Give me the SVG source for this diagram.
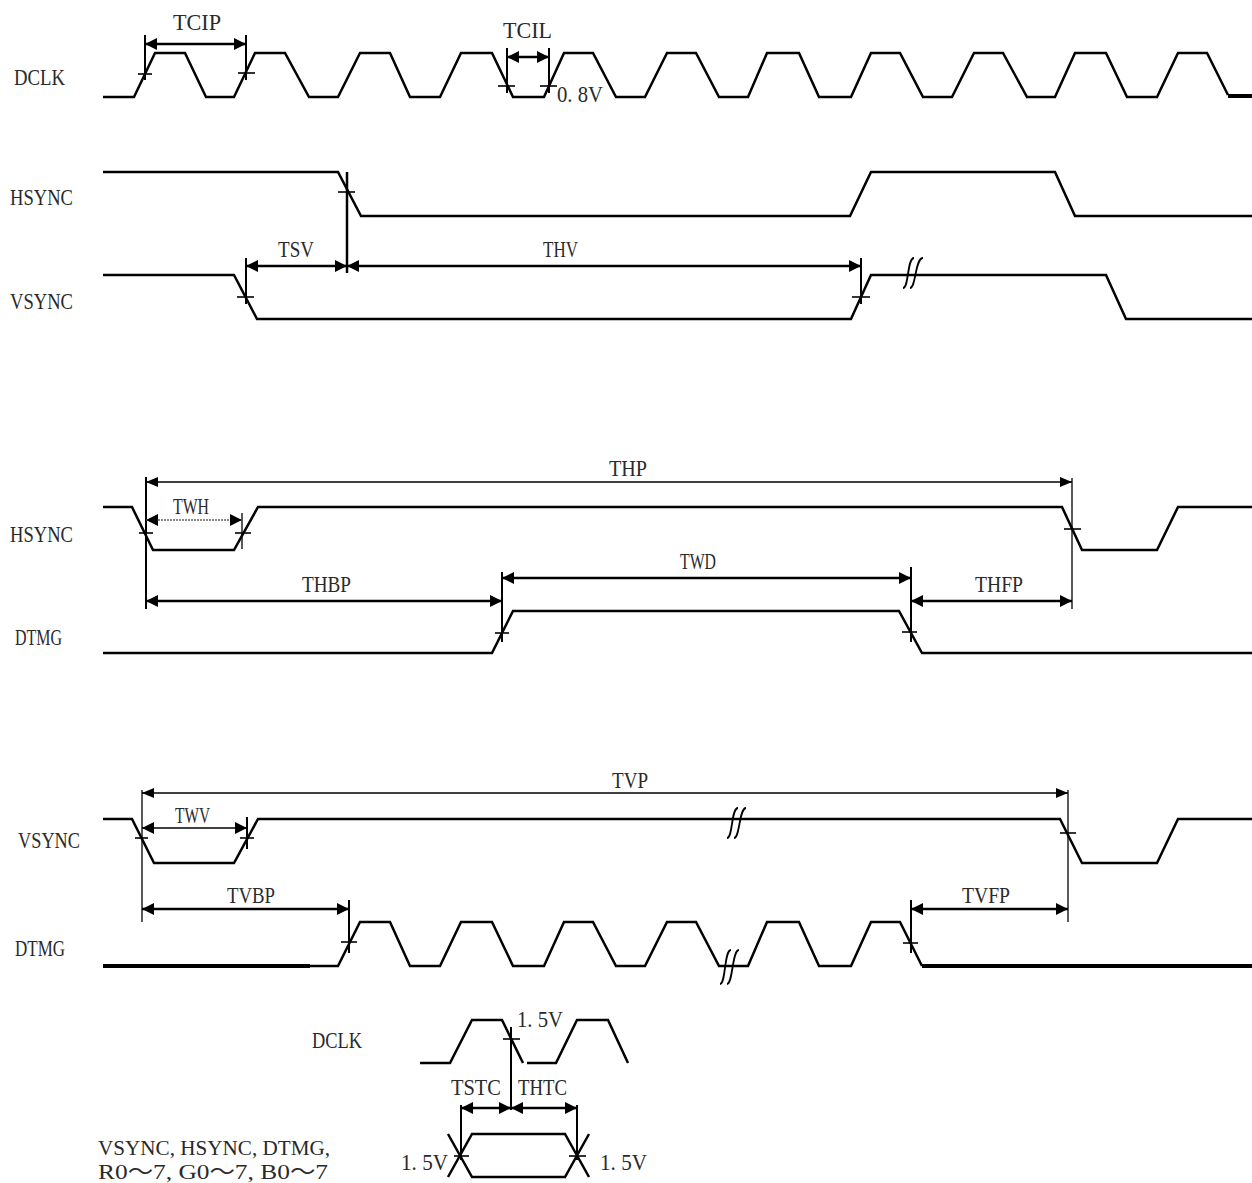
<svg xmlns="http://www.w3.org/2000/svg" width="1252" height="1183" viewBox="0 0 1252 1183">
<defs>
<marker id="ar" viewBox="0 0 12 12" markerWidth="12" markerHeight="12" refX="12" refY="6" orient="auto-start-reverse" markerUnits="userSpaceOnUse"><path d="M0,0 L12,6 L0,12 z" fill="#000"/></marker>
<marker id="ars" viewBox="0 0 12 10" markerWidth="12" markerHeight="10" refX="12" refY="5" orient="auto-start-reverse" markerUnits="userSpaceOnUse"><path d="M0,0 L12,5 L0,10 z" fill="#000"/></marker>
</defs>
<style>
.w{fill:none;stroke:#000;stroke-width:2.5;stroke-linejoin:miter}
.wt{fill:none;stroke:#000;stroke-width:4}
.t{font-family:"Liberation Serif","Noto Sans CJK SC",serif;font-size:24px;fill:#2a2a2a}
.s{font-size:22px}
.d{stroke:#000;stroke-width:2.5;marker-start:url(#ar);marker-end:url(#ar)}
.dt{stroke:#000;stroke-width:1.3;marker-start:url(#ars);marker-end:url(#ars)}
.e{stroke:#000;stroke-width:2}
.et{stroke:#000;stroke-width:1.3}
.k{stroke:#000;stroke-width:1.6}
.br{fill:none;stroke:#000;stroke-width:1.8}
</style>
<rect width="1252" height="1183" fill="#fff"/>

<g id="dclk1">
<text class="t" x="14" y="85" textLength="51" lengthAdjust="spacingAndGlyphs">DCLK</text>
<path class="w" d="M103,97 L134,97 L155,53 L185,53 L206,97 L234,97 L255,53 L285,53 L309,97 L338,97 L360,53 L390,53 L410,97 L440,97 L461,53 L492,53 L513,97 L544,97 L564,53 L593,53 L616,97 L645,97 L667,53 L696,53 L719,97 L748,97 L767,53 L799,53 L819,97 L851,97 L871,53 L900,53 L923,97 L952,97 L974,53 L1003,53 L1027,97 L1055,97 L1075,53 L1106,53 L1127,97 L1157,97 L1178,53 L1207,53 L1228,95"/>
<path class="wt" d="M1228,96 L1252,96"/>
</g>

<g id="hsync1">
<text class="t" x="10" y="205" textLength="63" lengthAdjust="spacingAndGlyphs">HSYNC</text>
<path class="w" d="M103,172 L338,172 L361,216 L850,216 L871,172 L1055,172 L1075,216 L1252,216"/>
</g>

<g id="vsync1">
<text class="t" x="10" y="309" textLength="63" lengthAdjust="spacingAndGlyphs">VSYNC</text>
<path class="w" d="M103,275 L234,275 L257,319 L851,319 L871,275 L1106,275 L1126,319 L1252,319"/>
<path class="br" d="M903,288 C909,288 907,258 914,258 M910,288 C916,288 915,258 923,258"/>
</g>

<g id="hsync2">
<text class="t" x="10" y="542" textLength="63" lengthAdjust="spacingAndGlyphs">HSYNC</text>
<path class="w" d="M103,507 L132,507 L153,550 L234,550 L258,507 L1062,507 L1082,550 L1157,550 L1178,507 L1252,507"/>
</g>

<g id="dtmg2">
<text class="t" x="15" y="645" textLength="47" lengthAdjust="spacingAndGlyphs">DTMG</text>
<path class="w" d="M103,653 L492,653 L513,611 L899,611 L922,653 L1252,653"/>
</g>

<g id="vsync3">
<text class="t" x="18" y="848" textLength="62" lengthAdjust="spacingAndGlyphs">VSYNC</text>
<path class="w" d="M103,819 L132,819 L154,863 L234,863 L258,819 L1060,819 L1082,863 L1157,863 L1178,819 L1252,819"/>
<path class="br" d="M727,838 C733,838 731,808 738,808 M734,838 C740,838 739,808 746,808"/>
</g>

<g id="dtmg3">
<text class="t" x="15" y="956" textLength="50" lengthAdjust="spacingAndGlyphs">DTMG</text>
<path class="wt" d="M103,966 L310,966"/>
<path class="w" d="M310,966 L338,966 L360,922 L390,922 L410,966 L440,966 L461,922 L492,922 L513,966 L544,966 L564,922 L593,922 L616,966 L645,966 L667,922 L696,922 L719,966 L748,966 L767,922 L799,922 L819,966 L851,966 L871,922 L900,922 L922,966"/>
<path class="wt" d="M922,966 L1252,966"/>
<path class="br" d="M720,984 C726,984 724,950 731,950 M727,984 C733,984 732,950 739,950"/>
</g>

<g id="dclk2">
<text class="t" x="312" y="1048" textLength="50" lengthAdjust="spacingAndGlyphs">DCLK</text>
<path class="w" d="M420,1063 L450,1063 L472,1020 L502,1020 L523,1063"/>
<path class="w" d="M527,1063 L556,1063 L577,1020 L608,1020 L628,1063"/>
</g>

<g id="databus">
<text class="t s" x="98" y="1155" textLength="232" lengthAdjust="spacingAndGlyphs">VSYNC, HSYNC, DTMG,</text>
<text class="t s" x="98" y="1179" textLength="230" lengthAdjust="spacingAndGlyphs">R0～7, G0～7, B0～7</text>
<path class="w" d="M448,1134 L472,1177 L565,1177 L589,1134 M448,1177 L472,1134 L565,1134 L589,1177"/>
</g>

<g id="connectors">
<line class="e" x1="145" y1="35" x2="145" y2="80"/>
<line class="e" x1="246" y1="35" x2="246" y2="80"/>
<line class="d" x1="145" y1="44" x2="246" y2="44"/>
<line class="k" x1="138" y1="74" x2="152" y2="74"/>
<line class="k" x1="238" y1="73" x2="255" y2="73"/>
<text class="t" x="173" y="30" textLength="48" lengthAdjust="spacingAndGlyphs">TCIP</text>
<line class="e" x1="507" y1="48" x2="507" y2="93"/>
<line class="e" x1="549" y1="48" x2="549" y2="93"/>
<line class="d" x1="507" y1="57" x2="549" y2="57"/>
<line class="k" x1="498" y1="86" x2="515" y2="86"/>
<line class="k" x1="540" y1="86" x2="557" y2="86"/>
<text class="t" x="503" y="38" textLength="49" lengthAdjust="spacingAndGlyphs">TCIL</text>
<text class="t" x="557" y="102" textLength="46" lengthAdjust="spacingAndGlyphs">0. 8V</text>
<line x1="347" y1="172" x2="347" y2="273" stroke="#000" stroke-width="2.5"/>
<line class="e" x1="246" y1="258" x2="246" y2="304"/>
<line class="e" x1="861" y1="258" x2="861" y2="304"/>
<line class="d" x1="246" y1="266" x2="347" y2="266"/>
<line class="d" x1="347" y1="266" x2="861" y2="266"/>
<line class="k" x1="338" y1="192" x2="355" y2="192"/>
<line class="k" x1="237" y1="297" x2="254" y2="297"/>
<line class="k" x1="852" y1="297" x2="870" y2="297"/>
<text class="t" x="278" y="257" textLength="36" lengthAdjust="spacingAndGlyphs">TSV</text>
<text class="t" x="543" y="257" textLength="35" lengthAdjust="spacingAndGlyphs">THV</text>
<line class="e" x1="146" y1="477" x2="146" y2="609"/>
<line class="et" x1="1072" y1="478" x2="1072" y2="609"/>
<line class="dt" x1="146" y1="482" x2="1072" y2="482"/>
<text class="t" x="609" y="476" textLength="38" lengthAdjust="spacingAndGlyphs">THP</text>
<line class="et" x1="242" y1="513" x2="242" y2="549"/>
<line x1="146" y1="520" x2="242" y2="520" stroke="#666" stroke-width="1.6" stroke-dasharray="2 1" marker-start="url(#ar)" marker-end="url(#ar)"/>
<text class="t" x="173" y="514" textLength="36" lengthAdjust="spacingAndGlyphs">TWH</text>
<line class="k" x1="139" y1="533" x2="153" y2="533"/>
<line class="k" x1="235" y1="533" x2="251" y2="533"/>
<line class="k" x1="1064" y1="529" x2="1081" y2="529"/>
<line class="e" x1="502" y1="572" x2="502" y2="642"/>
<line class="e" x1="911" y1="567" x2="911" y2="642"/>
<line class="d" x1="502" y1="578" x2="911" y2="578"/>
<line class="d" x1="146" y1="601" x2="502" y2="601"/>
<line class="d" x1="911" y1="601" x2="1072" y2="601"/>
<line class="k" x1="495" y1="633" x2="509" y2="633"/>
<line class="k" x1="902" y1="632" x2="917" y2="632"/>
<text class="t" x="680" y="569" textLength="36" lengthAdjust="spacingAndGlyphs">TWD</text>
<text class="t" x="302" y="592" textLength="49" lengthAdjust="spacingAndGlyphs">THBP</text>
<text class="t" x="975" y="592" textLength="48" lengthAdjust="spacingAndGlyphs">THFP</text>
<line class="et" x1="142" y1="790" x2="142" y2="922"/>
<line class="et" x1="1068" y1="790" x2="1068" y2="922"/>
<line class="dt" x1="142" y1="793" x2="1068" y2="793"/>
<text class="t" x="612" y="788" textLength="36" lengthAdjust="spacingAndGlyphs">TVP</text>
<line class="e" x1="247" y1="817" x2="247" y2="849"/>
<line x1="142" y1="828" x2="247" y2="828" stroke="#000" stroke-width="1.6" marker-start="url(#ar)" marker-end="url(#ar)"/>
<text class="t" x="175" y="823" textLength="35" lengthAdjust="spacingAndGlyphs">TWV</text>
<line class="k" x1="135" y1="838" x2="148" y2="838"/>
<line class="k" x1="240" y1="838" x2="254" y2="838"/>
<line class="k" x1="1060" y1="833" x2="1076" y2="833"/>
<line class="e" x1="349" y1="900" x2="349" y2="953"/>
<line class="e" x1="911" y1="900" x2="911" y2="953"/>
<line class="d" x1="142" y1="909" x2="349" y2="909"/>
<line class="d" x1="911" y1="909" x2="1068" y2="909"/>
<line class="k" x1="341" y1="942" x2="357" y2="942"/>
<line class="k" x1="903" y1="943" x2="918" y2="943"/>
<text class="t" x="227" y="903" textLength="48" lengthAdjust="spacingAndGlyphs">TVBP</text>
<text class="t" x="962" y="903" textLength="48" lengthAdjust="spacingAndGlyphs">TVFP</text>
<line class="e" x1="511" y1="1027" x2="511" y2="1110"/>
<line class="k" x1="503" y1="1039" x2="520" y2="1039"/>
<line class="e" x1="461" y1="1105" x2="461" y2="1160"/>
<line class="e" x1="577" y1="1105" x2="577" y2="1160"/>
<line class="d" x1="461" y1="1108" x2="511" y2="1108"/>
<line class="d" x1="511" y1="1108" x2="577" y2="1108"/>
<line class="k" x1="454" y1="1156" x2="469" y2="1156"/>
<line class="k" x1="569" y1="1156" x2="586" y2="1156"/>
<text class="t" x="517" y="1027" textLength="46" lengthAdjust="spacingAndGlyphs">1. 5V</text>
<text class="t" x="451" y="1095" textLength="50" lengthAdjust="spacingAndGlyphs">TSTC</text>
<text class="t" x="518" y="1095" textLength="49" lengthAdjust="spacingAndGlyphs">THTC</text>
<text class="t" x="401" y="1170" textLength="47" lengthAdjust="spacingAndGlyphs">1. 5V</text>
<text class="t" x="600" y="1170" textLength="47" lengthAdjust="spacingAndGlyphs">1. 5V</text>
</g>
</svg>
